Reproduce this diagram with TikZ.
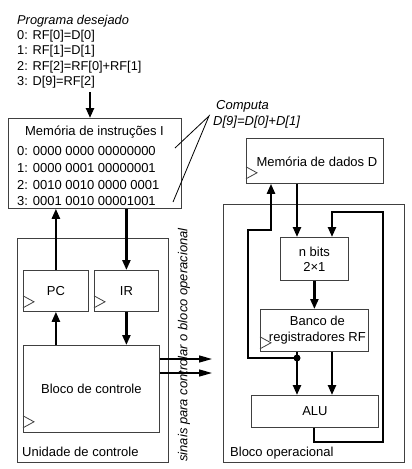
\documentclass[tikz,border=0pt]{standalone}
\usepackage{fontspec}
\setmainfont{Liberation Sans}
\usetikzlibrary{arrows.meta,calc}
\begin{document}
\begin{tikzpicture}[x=1pt,y=-1pt,
  box/.style={draw=black!75, line width=0.8pt, inner sep=0pt, anchor=north west},
  txt/.style={font=\fontsize{13}{16}\selectfont, inner sep=0pt},
  lst/.style={font=\fontsize{12.8}{15}\selectfont, inner sep=0pt, anchor=west},
  thk/.style={line width=2.3pt, -{Triangle[length=10pt,width=8pt]}},
  thl/.style={line width=2.3pt},
  sig/.style={line width=1.4pt, -{Triangle[length=13pt,width=7pt]}},
  thinl/.style={line width=0.8pt},
  clk/.pic={\draw[draw=black!75, line width=0.8pt] (0,0) -- (11,-6) -- (0,-12);}]
\useasboundingbox (0,0) rectangle (412,469);

% program listing
\node[lst, font=\fontsize{12.8}{15}\selectfont\itshape] (p0) at (17,21) {Programa desejado};
\node[lst] (p1) at (17,36) {0: RF[0]=D[0]};
\node[lst] (p2) at (17,51.5) {1: RF[1]=D[1]};
\node[lst] (p3) at (17,67) {2: RF[2]=RF[0]+RF[1]};
\node[lst] (p4) at (17,82.5) {3: D[9]=RF[2]};
\coordinate (pstart) at (90,92);

% instruction memory
\node[box, minimum width=173pt, minimum height=90pt] (imem) at (8,118) {};
\node[txt] (imt) at (94.5,132) {Memória de instruções I};
\node[txt, anchor=west] (i0) at (17,151) {0: 0000 0000 00000000};
\node[txt, anchor=west] (i1) at (17,168) {1: 0000 0001 00000001};
\node[txt, anchor=west] (i2) at (17,185) {2: 0010 0010 0000 0001};
\node[txt, anchor=west] (i3) at (17,201) {3: 0001 0010 00001001};
\draw[thk] (pstart) -- (pstart |- imem.north);

% computa label
\node[txt, anchor=west, font=\fontsize{13}{16}\selectfont\itshape] (c1) at (216,106) {Computa};
\node[txt, anchor=west, font=\fontsize{13}{16}\selectfont\itshape] (c2) at (213,122) {D[9]=D[0]+D[1]};
\coordinate (apex) at (209,116);
\coordinate (e1) at (175,148);
\coordinate (e2) at (173,202);
\draw[thinl] (e1) -- (apex) -- (e2);

% control unit
\node[box, minimum width=151pt, minimum height=224pt] (cu) at (17,238) {};
\node[txt, anchor=west] (cut) at (22,452) {Unidade de controle};
\node[box, minimum width=65pt, minimum height=41pt] (pc) at (23,270) {};
\node[txt] at (pc.center) {PC};
\node[box, minimum width=64pt, minimum height=41pt] (ir) at (94,270) {};
\node[txt] at (ir.center) {IR};
\node[box, minimum width=136pt, minimum height=87pt] (bc) at (23,345) {};
\node[txt] at ($(bc.center)+(0,0)$) {Bloco de controle};
\pic at ($(pc.south west)+(0,-4)$) {clk};
\pic at ($(ir.south west)+(0,-4)$) {clk};
\pic at ($(bc.south west)+(0,-5)$) {clk};

\draw[thk] (pc.north) -- (pc.north |- imem.south);
\draw[thk] (pc.south |- bc.north) -- (pc.south);
\draw[thk] (ir.north |- imem.south) -- (ir.north);
\draw[thk] (ir.south) -- (ir.south |- bc.north);

% control signals
\coordinate (s1) at (212,359);
\coordinate (s2) at (212,373);
\draw[sig] (bc.east |- s1) -- (s1);
\draw[sig] (bc.east |- s2) -- (s2);
\node[txt, rotate=90, font=\fontsize{13}{16}\selectfont\itshape] (sigt) at (184,345) {sinais para controlar o bloco operacional};

% data memory
\node[box, minimum width=137pt, minimum height=45pt] (dm) at (246,138) {};
\node[txt] at ($(dm.center)+(2,1)$) {Memória de dados D};
\pic at ($(dm.south west)+(0,-5)$) {clk};

% datapath
\node[box, minimum width=181pt, minimum height=258pt] (op) at (223,204) {};
\node[txt, anchor=west] (opt) at (230,453) {Bloco operacional};
\node[box, minimum width=68pt, minimum height=43pt] (mux) at (280,237) {};
\node[txt, align=center, font=\fontsize{13}{15}\selectfont] at (mux.center) {n bits\\2×1};
\node[box, minimum width=108pt, minimum height=42pt] (rf) at (260,309) {};
\node[txt, align=center, font=\fontsize{13}{16}\selectfont] at ($(rf.center)+(3,0)$) {Banco de\\registradores RF};
\pic at ($(rf.south west)+(0,-3)$) {clk};
\node[box, minimum width=127pt, minimum height=32pt] (alu) at (251,395) {};
\node[txt] at (alu.center) {ALU};

\coordinate (xa) at (297,0);
\coordinate (xb) at (332,0);
\coordinate (j) at (297,358);
\coordinate (lp1) at (248,358);
\coordinate (lp2) at (248,230);
\coordinate (lp3) at (271,230);
\coordinate (fb1) at (314,442);
\coordinate (fb2) at (383,442);
\coordinate (fb3) at (383,212);
\coordinate (fb4) at (332,212);

\draw[thk] (xa |- dm.south) -- (xa |- mux.north);
\draw[thk] (mux.south) -- (mux.south |- rf.north);
\draw[thl] (xa |- rf.south) -- (j);
\draw[thk] (j) -- (xa |- alu.north);
\draw[thk] (xb |- rf.south) -- (xb |- alu.north);
\fill (j) circle (3.5pt);
\draw[thk] (j) -- (lp1) -- (lp2) -- (lp3) -- (lp3 |- dm.south);
\draw[thk, line join=miter] (fb1 |- alu.south) -- (fb1) -- (fb2) -- (fb3) -- (fb4) -- (fb4 |- mux.north);
\end{tikzpicture}
\end{document}
